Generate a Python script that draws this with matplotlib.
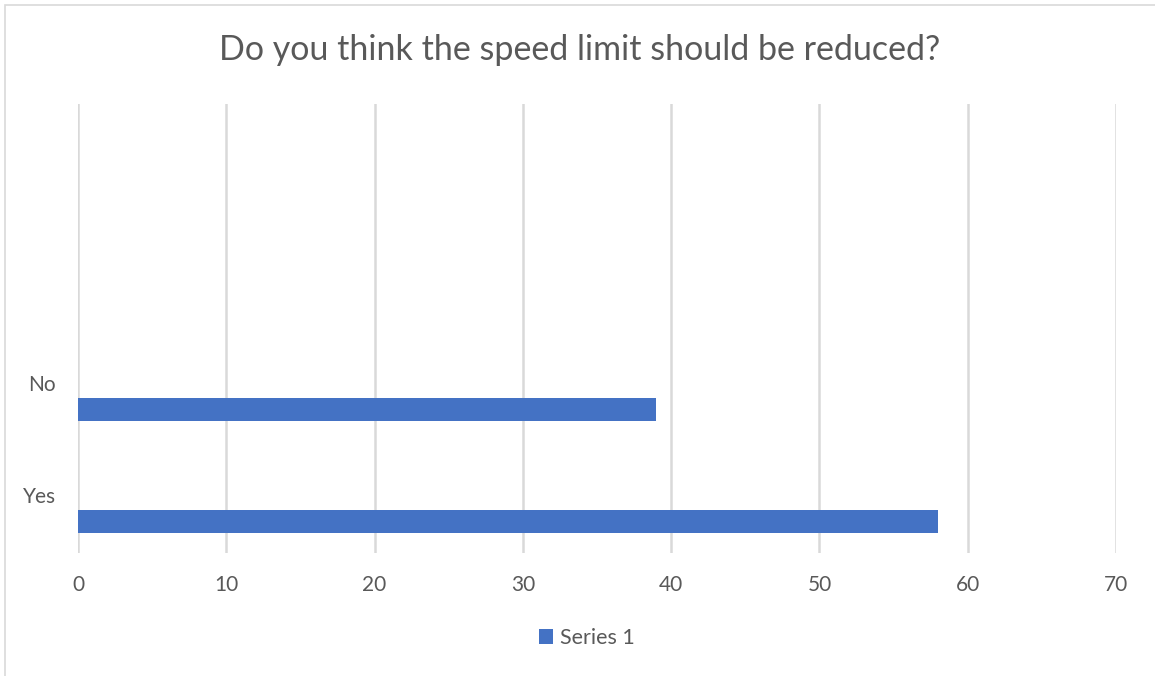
import matplotlib.pyplot as plt
from matplotlib.patches import Rectangle

title = 'Do you think the speed limit should be reduced?'
categories = ['Yes', 'No']
values = [58, 39]
series_name = 'Series 1'
x_ticks = [0, 10, 20, 30, 40, 50, 60, 70]

plt.rcParams['font.family'] = ['Lato', 'DejaVu Sans']
text_col = '#595959'
grid_col = '#d9d9d9'
bar_col = '#4472c4'

fig = plt.figure(figsize=(11.55, 6.76), dpi=100)
ax = fig.add_axes([78 / 1155, 1 - 553 / 676, (1116 - 78) / 1155, (553 - 104) / 676])

# chart border (Excel chart area)
fig.add_artist(Rectangle((5 / 1155, -0.1), 1.2, 1 - 5 / 676 + 0.1, transform=fig.transFigure,
                         fill=False, edgecolor='#d9d9d9', linewidth=1.2))

# categories sit in 4 slots, bars are shifted down inside each slot
y_pos = list(range(len(categories)))
offset = -0.218
ax.barh([y + offset for y in y_pos], values, height=0.205, color=bar_col, label=series_name, zorder=3)

ax.set_xlim(0, 70)
ax.set_ylim(-0.5, 3.5)
ax.set_xticks(x_ticks)
ax.set_yticks(y_pos)
ax.set_yticklabels(categories)
ax.tick_params(axis='both', length=0, labelsize=15, colors=text_col)
ax.tick_params(axis='x', pad=16)
ax.tick_params(axis='y', pad=16)
for t in ax.get_yticklabels():
    t.set_verticalalignment('center')

for x in x_ticks:
    ax.axvline(x, color=grid_col, linewidth=1.8, zorder=1)
for s in ax.spines.values():
    s.set_visible(False)

fig.text(0.502, 1 - 50 / 676, title, ha='center', va='center', fontsize=24.5, color=text_col)

fig.legend(loc='center', bbox_to_anchor=(0.508, 1 - 638 / 676), frameon=False, fontsize=15.5,
           labelcolor=text_col, handlelength=0.65, handleheight=0.65, handletextpad=0.3)

fig.savefig('out.png', dpi=100)
